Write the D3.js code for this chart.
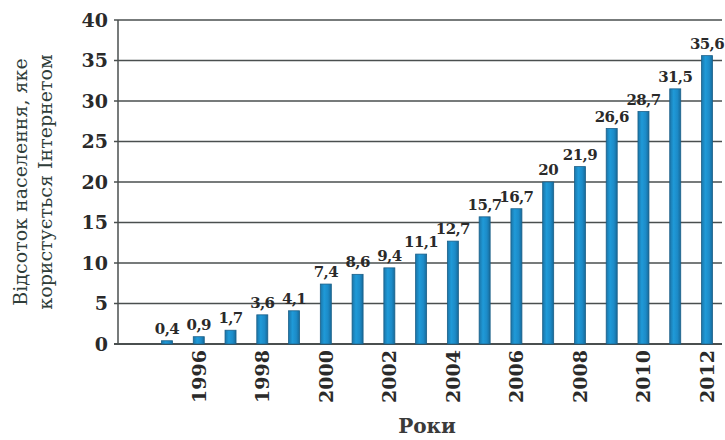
<!DOCTYPE html>
<html><head><meta charset="utf-8">
<script src="https://cdn.jsdelivr.net/npm/d3@7"></script>
<style>body{margin:0;background:#fff}svg{display:block}</style>
</head><body>
<script>
const years = [1995,1996,1997,1998,1999,2000,2001,2002,2003,2004,2005,2006,2007,2008,2009,2010,2011,2012];
const values = [0.4,0.9,1.7,3.6,4.1,7.4,8.6,9.4,11.1,12.7,15.7,16.7,20,21.9,26.6,28.7,31.5,35.6];
const valueLabels = ["0,4","0,9","1,7","3,6","4,1","7,4","8,6","9,4","11,1","12,7","15,7","16,7","20","21,9","26,6","28,7","31,5","35,6"];
const xTickYears = [1996,1998,2000,2002,2004,2006,2008,2010,2012];
const yTicks = [0,5,10,15,20,25,30,35,40];
const yTitle = ["Відсоток населення, яке","користується Інтернетом"];
const xTitle = "Роки";

(function(){
const W=725,H=440;
const svg=d3.select("body").append("svg").attr("width",W).attr("height",H);
const mLeft=118,mRight=722,mTop=20,mBottom=344;
const y=d3.scaleLinear().domain([0,40]).range([mBottom,mTop]);
const x=d3.scaleLinear().domain([1995,2012]).range([167,707]);
const serif="'DejaVu Serif', 'Liberation Serif', serif";

svg.append("g").selectAll("line").data(yTicks).join("line")
  .attr("x1",mLeft-4).attr("x2",mRight).attr("y1",d=>y(d)).attr("y2",d=>y(d))
  .attr("stroke","#4a4f4f").attr("stroke-width",d=>d===0?2:1.3);
svg.append("line").attr("x1",mLeft).attr("x2",mLeft).attr("y1",mTop).attr("y2",mBottom)
  .attr("stroke","#4a4f4f").attr("stroke-width",1.5);

const yAxis=d3.axisLeft(y).tickValues(yTicks).tickSize(0).tickPadding(10);
const ga=svg.append("g").attr("transform",`translate(${mLeft},0)`).call(yAxis);
ga.select(".domain").remove();
ga.selectAll("text").attr("font-family",serif).attr("font-size",19).attr("fill","#2a2a2a").attr("font-weight","bold");

const grad=svg.append("defs").append("linearGradient").attr("id","g1").attr("x1",0).attr("x2",1);
grad.append("stop").attr("offset",0).attr("stop-color","#1b75a8");
grad.append("stop").attr("offset",0.35).attr("stop-color","#1f9ad8");
grad.append("stop").attr("offset",0.7).attr("stop-color","#1c8bc8");
grad.append("stop").attr("offset",1).attr("stop-color","#176a9a");
const bw=11;
svg.append("g").selectAll("rect").data(years).join("rect")
  .attr("x",(d)=>x(d)-bw/2).attr("width",bw)
  .attr("y",(d,i)=>y(values[i])).attr("height",(d,i)=>mBottom-y(values[i]))
  .attr("fill","url(#g1)").attr("stroke","#1a5f88").attr("stroke-width",0.8);

svg.append("g").selectAll("text").data(years).join("text")
  .attr("x",d=>x(d)).attr("y",(d,i)=>y(values[i])-7)
  .attr("text-anchor","middle").attr("font-family",serif).attr("font-size",15)
  .attr("letter-spacing",-0.6)
  .attr("font-weight","bold").attr("fill","#2a2a2a")
  .text((d,i)=>valueLabels[i]);

svg.append("g").selectAll("text").data(xTickYears).join("text")
  .attr("transform",d=>`translate(${x(d)+7},${mBottom+6}) rotate(-90)`)
  .attr("text-anchor","end").attr("font-family",serif).attr("font-size",19)
  .attr("font-weight","bold").attr("fill","#2a2a2a").text(d=>d);

svg.append("text").attr("x",427).attr("y",433).attr("text-anchor","middle")
  .attr("font-family",serif).attr("font-size",20).attr("font-weight","bold").attr("fill","#3a3a3a").text(xTitle);
yTitle.forEach((t,i)=>{
  svg.append("text").attr("transform",`translate(${27+i*25},182) rotate(-90)`)
    .attr("text-anchor","middle").attr("font-family",serif).attr("font-size",19)
    .attr("fill","#2f3d3a").text(t);
});
})();
</script>
</body></html>
